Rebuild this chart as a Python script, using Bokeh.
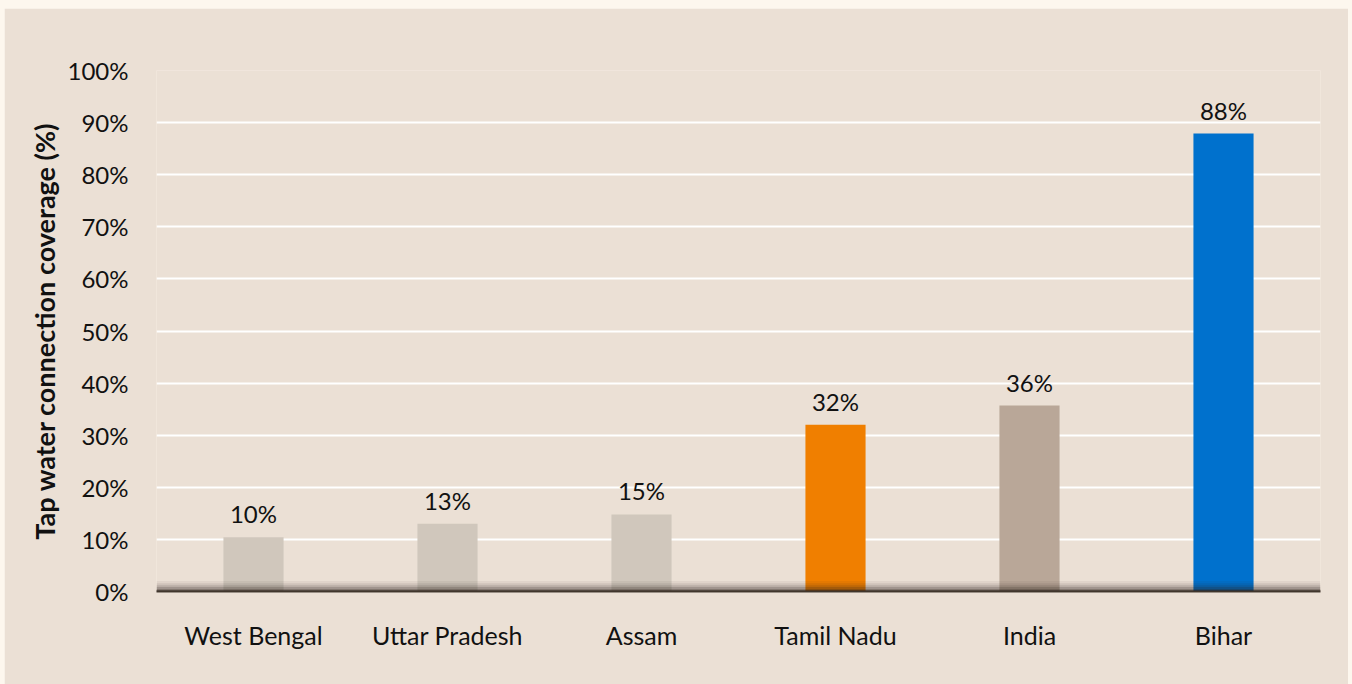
from bokeh.plotting import figure
from bokeh.models import ColumnDataSource, LabelSet, BoxAnnotation, FixedTicker, CustomJSTickFormatter
from bokeh.core.properties import value
from bokeh.layouts import column
from bokeh.embed import file_html
from bokeh.resources import INLINE

states = ["West Bengal", "Uttar Pradesh", "Assam", "Tamil Nadu", "India", "Bihar"]
coverage = [10.4, 13.0, 14.8, 32.0, 35.7, 87.9]
labels = ["10%", "13%", "15%", "32%", "36%", "88%"]
colors = ["#D0C7BC", "#D0C7BC", "#D0C7BC", "#F07F00", "#B9A798", "#0071CD"]
y_ticks = [0, 10, 20, 30, 40, 50, 60, 70, 80, 90, 100]

PANEL = "#EBE0D5"
FONT = "Lato"

src = ColumnDataSource(dict(x=states, y=coverage, lab=labels, c=colors))

p = figure(x_range=states, y_range=(0, 100), width=1344, height=676,
           output_backend="svg", toolbar_location=None,
           min_border_left=152, min_border_right=28, min_border_top=62, min_border_bottom=93)
p.margin = (8, 4, 0, 4)
p.x_range.range_padding = 0
p.background_fill_color = PANEL
p.border_fill_color = PANEL
p.outline_line_color = None

p.vbar(x="x", top="y", width=0.31, color="c", source=src, line_color=None)

# shadowed baseline
for top, a in [(2.0, 0.06), (1.6, 0.09), (1.2, 0.13), (0.85, 0.18), (0.5, 0.25), (0.25, 0.35)]:
    p.add_layout(BoxAnnotation(bottom=0, top=top, fill_color="#2e241c", fill_alpha=a, line_color=None))

p.add_layout(LabelSet(x="x", y="y", text="lab", source=src, text_align="center",
                      text_baseline="alphabetic", y_offset=14, text_font=value(FONT),
                      text_font_size="24px", text_color="#111111"))

p.xgrid.grid_line_color = None
p.ygrid.grid_line_color = "white"
p.ygrid.grid_line_width = 2
p.yaxis.ticker = FixedTicker(ticks=y_ticks)
p.yaxis.formatter = CustomJSTickFormatter(code="return tick + '%';")
p.yaxis.axis_line_color = None
p.yaxis.major_tick_line_color = None
p.yaxis.minor_tick_line_color = None
p.yaxis.major_label_standoff = 22
p.yaxis.major_label_text_font = FONT
p.yaxis.major_label_text_font_size = "24px"
p.yaxis.major_label_text_color = "#111111"
p.yaxis.axis_label = "Tap water connection coverage (%)"
p.yaxis.axis_label_text_font = FONT
p.yaxis.axis_label_text_font_style = "bold"
p.yaxis.axis_label_text_font_size = "27px"
p.yaxis.axis_label_text_color = "#111111"
p.yaxis.axis_label_standoff = 4

p.xaxis.axis_line_color = "#4a4038"
p.xaxis.axis_line_width = 2
p.xaxis.major_tick_line_color = None
p.xaxis.minor_tick_line_color = None
p.xaxis.major_label_standoff = 22
p.xaxis.major_label_text_font = FONT
p.xaxis.major_label_text_font_size = "25px"
p.xaxis.major_label_text_color = "#111111"

layout = column(p, width=1352, height=684, styles={"background-color": "#FDF7EE"})

open("out.html", "w").write(file_html(layout, INLINE))
